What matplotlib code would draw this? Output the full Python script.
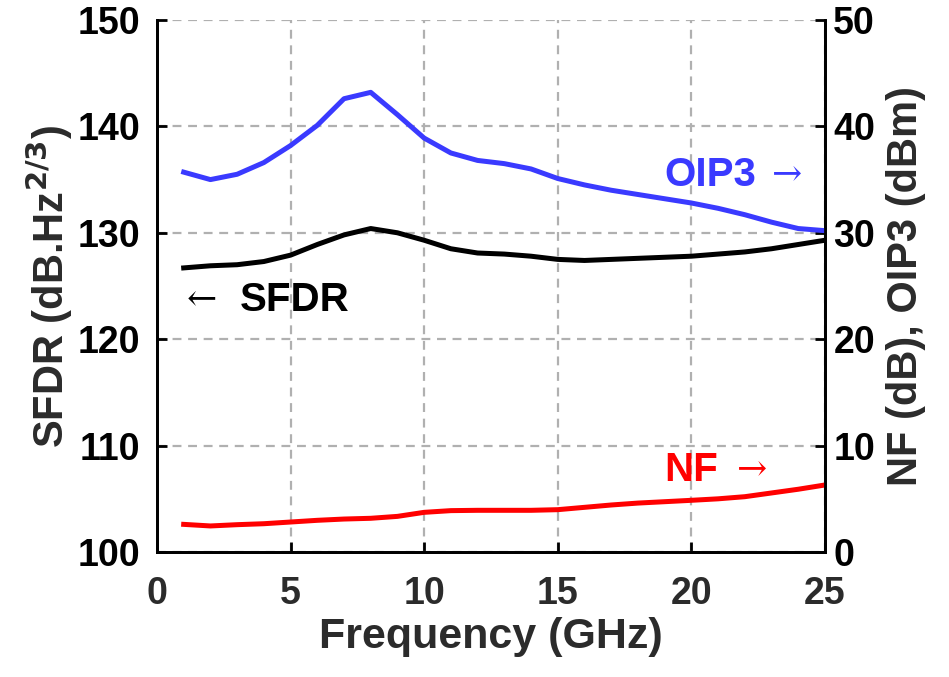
import numpy as np
import matplotlib.pyplot as plt

plt.rcParams['font.family'] = ['Liberation Sans', 'DejaVu Sans']
plt.rcParams['font.weight'] = 'bold'

freq = [1, 2, 3, 4, 5, 6, 7, 8, 9, 10, 11, 12, 13, 14, 15, 16, 17, 18, 19, 20, 21, 22, 23, 24, 25]
sfdr = [126.7, 126.9, 127.0, 127.3, 127.9, 128.9, 129.8, 130.4, 130.0, 129.3, 128.5, 128.1, 128.0, 127.8,
        127.5, 127.4, 127.5, 127.6, 127.7, 127.8, 128.0, 128.2, 128.5, 128.9, 129.3]
oip3 = [35.7, 35.0, 35.5, 36.6, 38.2, 40.1, 42.6, 43.2, 41.1, 38.9, 37.5, 36.8, 36.5, 36.0,
        35.1, 34.5, 34.0, 33.6, 33.2, 32.8, 32.3, 31.7, 31.0, 30.4, 30.2]
nf = [2.6, 2.45, 2.57, 2.66, 2.82, 2.98, 3.1, 3.17, 3.35, 3.73, 3.89, 3.92, 3.92, 3.92,
      3.98, 4.2, 4.42, 4.6, 4.73, 4.86, 5.0, 5.2, 5.55, 5.9, 6.3]

blue = '#3a3aff'
red = '#ff0000'
grey = '#2b2b2b'

fig = plt.figure(figsize=(9.49, 6.77), dpi=100)
ax = fig.add_axes([0.1654, 0.1846, 0.7039, 0.7859])
ax2 = ax.twinx()

ax.plot(freq, sfdr, color='black', lw=3.6, zorder=3)
ax2.plot(freq, oip3, color=blue, lw=3.6)
ax2.plot(freq, nf, color=red, lw=3.6)

ax.set_xlim(0, 25)
ax.set_ylim(100, 150)
ax2.set_ylim(0, 50)
ax.set_xticks([0, 5, 10, 15, 20, 25])
ax.set_yticks([100, 110, 120, 130, 140, 150])
ax2.set_yticks([0, 10, 20, 30, 40, 50])

ax.grid(True, color='#b0b0b0', linestyle=(0, (4, 3)), lw=1.6)
for a in (ax, ax2):
    a.tick_params(direction='in', length=7, width=2, labelsize=27, pad=6)
    a.spines['top'].set_visible(False)
    for s in ('left', 'right', 'bottom'):
        a.spines[s].set_linewidth(2)
    for lab in a.get_xticklabels() + a.get_yticklabels():
        lab.set_fontweight('bold')
ax.tick_params(axis='x', pad=17, labelcolor=grey)
ax.tick_params(axis='y', pad=12)

ax.set_xlabel('Frequency (GHz)', fontsize=31, fontweight='bold', color=grey, labelpad=4)
ax.set_ylabel(r'SFDR (dB.Hz$^{\mathbf{2/3}}$)', fontsize=30, fontweight='bold', color=grey, labelpad=2)
ax2.set_ylabel('NF (dB), OIP3 (dBm)', fontsize=30, fontweight='bold', color=grey, labelpad=8)

arrow_font = ['DejaVu Serif']
ax.text(1.1, 123.7, '\u2190', fontsize=26, family=arrow_font, fontweight='normal', color='black', va='center')
ax.text(3.1, 123.7, 'SFDR', fontsize=29, fontweight='bold', color='black', va='center')
ax2.text(19.0, 35.4, 'OIP3', fontsize=29, fontweight='bold', color=blue, va='center')
ax2.text(23.0, 35.4, '\u2192', fontsize=26, family=arrow_font, fontweight='normal', color=blue, va='center')
ax2.text(19.0, 7.7, 'NF', fontsize=29, fontweight='bold', color=red, va='center')
ax2.text(21.7, 7.7, '\u2192', fontsize=26, family=arrow_font, fontweight='normal', color=red, va='center')

plt.savefig('out.png', dpi=100)
